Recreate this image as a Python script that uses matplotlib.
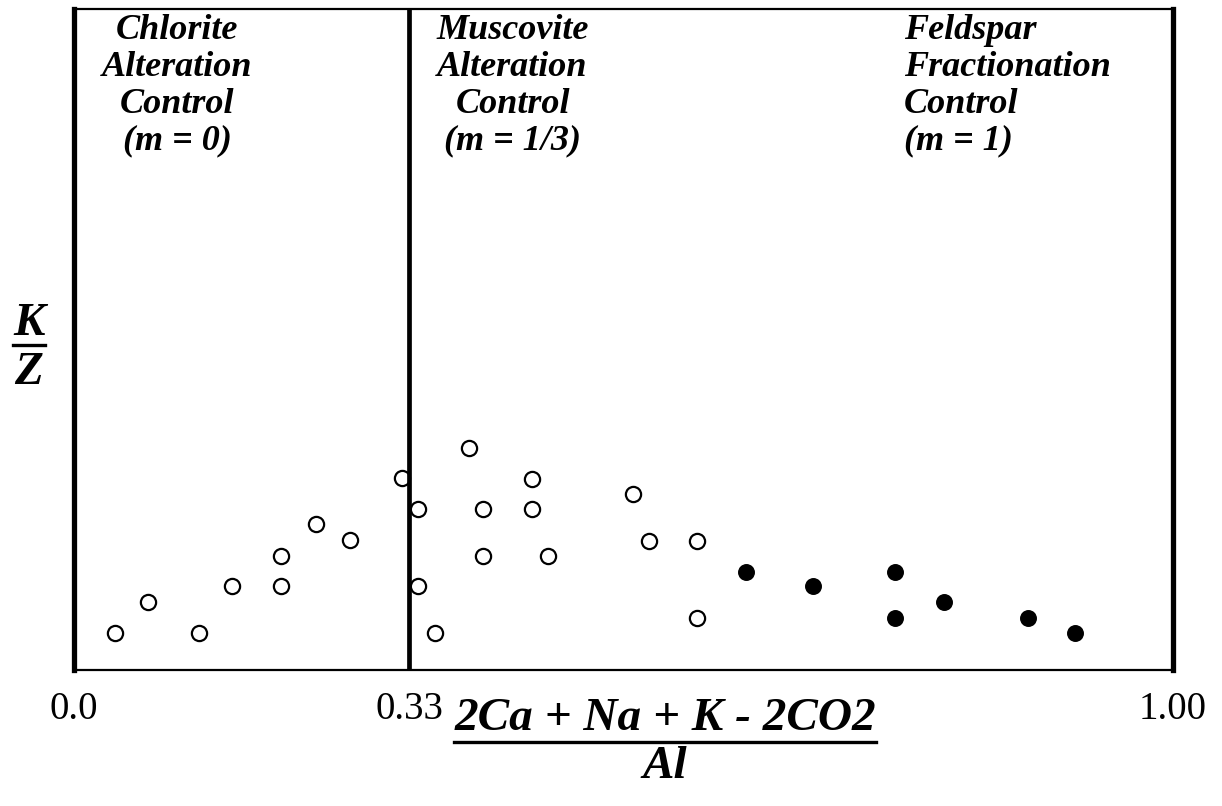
import matplotlib.pyplot as plt
from matplotlib.lines import Line2D

plt.rcParams['font.family'] = 'Liberation Serif'

# x = position along the drawn (schematic) axis, y = K/Z, both
open_x = [0.037, 0.067, 0.114, 0.144, 0.188, 0.188, 0.220, 0.251, 0.298, 0.313, 0.313,
          0.328, 0.359, 0.372, 0.372, 0.417, 0.417, 0.431, 0.509, 0.523, 0.567, 0.567]
open_y = [0.056, 0.103, 0.056, 0.127, 0.172, 0.127, 0.221, 0.197, 0.290, 0.244, 0.127,
          0.056, 0.336, 0.244, 0.172, 0.289, 0.244, 0.172, 0.266, 0.195, 0.195, 0.079]
filled_x = [0.611, 0.672, 0.747, 0.747, 0.792, 0.868, 0.911]
filled_y = [0.148, 0.127, 0.148, 0.079, 0.103, 0.079, 0.056]

tick_pos = [0.0, 0.305, 1.0]
tick_labels = ['0.0', '0.33', '1.00']
divider_x = 0.305

fields = ['Chlorite\nAlteration\nControl\n(m = 0)',
          'Muscovite\nAlteration\nControl\n(m = 1/3)',
          'Feldspar\nFractionation\nControl\n(m = 1)']

fig = plt.figure(figsize=(12.22, 8.06), dpi=100)
ax = fig.add_axes([0.0606, 0.1687, 0.8993, 0.8201])
ax.set_xlim(0, 1)
ax.set_ylim(0, 1)

ax.scatter(open_x, open_y, s=120, facecolors='white', edgecolors='black', linewidths=1.6, zorder=2)
ax.scatter(filled_x, filled_y, s=125, color='black', zorder=2)
ax.axvline(divider_x, color='black', linewidth=3.4, zorder=3)

ax.set_xticks(tick_pos, tick_labels, fontsize=28)
ax.set_yticks([])
ax.tick_params(axis='x', length=0, pad=15)
for side in ['left', 'right']:
    ax.spines[side].set_linewidth(3.8)
for side in ['top', 'bottom']:
    ax.spines[side].set_linewidth(1.6)

txt = dict(fontsize=26, fontweight='bold', style='italic', va='top', linespacing=1.16)
ax.text(0.094, 0.993, fields[0], ha='center', multialignment='center', transform=ax.transAxes, **txt)
ax.text(0.399, 0.993, fields[1], ha='center', multialignment='center', transform=ax.transAxes, **txt)
ax.text(0.755, 0.993, fields[2], ha='left', multialignment='left', transform=ax.transAxes, **txt)

lab = dict(fontsize=34, fontweight='bold', style='italic', ha='center', va='center')
num = fig.text(665 / 1222, 1 - 719 / 806, '2Ca + Na + K - 2CO2', **lab)
fig.text(665 / 1222, 1 - 767 / 806, 'Al', **lab)
knum = fig.text(29 / 1222, 1 - 324 / 806, 'K', **lab)
fig.text(29 / 1222, 1 - 373 / 806, 'Z', **lab)

# underline the numerators
fig.canvas.draw()
inv = fig.transFigure.inverted()
for t, ypix in [(num, 742), (knum, 345)]:
    bb = t.get_window_extent()
    x0 = inv.transform((bb.x0, 0))[0]
    x1 = inv.transform((bb.x1, 0))[0]
    y = 1 - ypix / 806
    fig.add_artist(Line2D([x0, x1], [y, y], transform=fig.transFigure, color='black', linewidth=2.4))

fig.savefig('out.png', dpi=100)
